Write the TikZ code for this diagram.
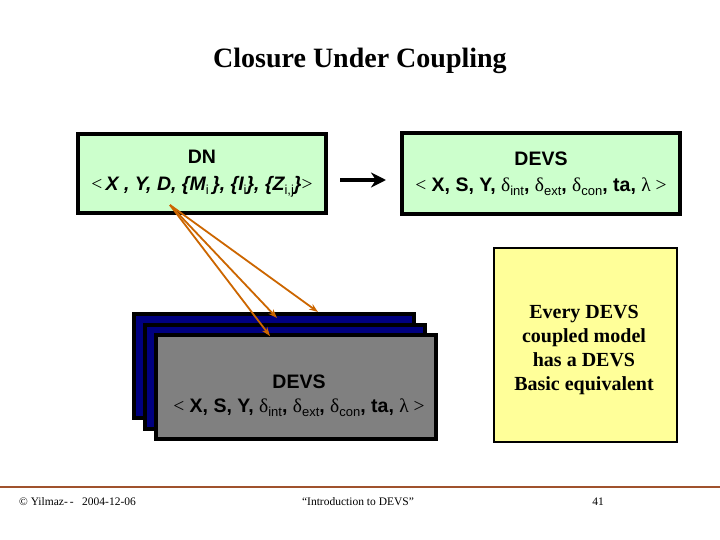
\documentclass[tikz,border=0pt]{standalone}
\usepackage{fontspec}
\setmainfont{Liberation Serif}
\newfontfamily\arialf{Liberation Sans}
\usetikzlibrary{arrows.meta}
\definecolor{lightgreen}{HTML}{CCFFCC}
\definecolor{navyfill}{HTML}{000080}
\definecolor{grayfill}{HTML}{808080}
\definecolor{paleyellow}{HTML}{FFFF99}
\definecolor{orangearrow}{HTML}{CC6600}
\definecolor{brownline}{HTML}{A0522D}
\newcommand\sbx[1]{\raisebox{-0.35ex}{\fontsize{13}{13}\selectfont\arialf\mdseries\upshape #1}}
\newcommand\devsline{{\rmfamily\mdseries <} \textbf{X, S, Y,} {\rmfamily\mdseries δ}\sbx{int}\textbf{,} {\rmfamily\mdseries δ}\sbx{ext}\textbf{,} {\rmfamily\mdseries δ}\sbx{con}\textbf{, ta,} {\rmfamily\mdseries λ >}}
\begin{document}
\begin{tikzpicture}[x=1pt,y=-1pt,
  greenbox/.style={draw=black, line width=4pt, fill=lightgreen, inner sep=0pt, align=center,
    font=\fontsize{19.5}{26}\selectfont\arialf},
  stackbox/.style={draw=black, line width=4pt, fill=navyfill, inner sep=0pt,
    minimum width=280pt, minimum height=104pt},
  frontbox/.style={stackbox, fill=grayfill},
  notebox/.style={draw=black, line width=1.8pt, fill=paleyellow, inner sep=0pt},
  notetext/.style={align=center, inner sep=0pt, font=\fontsize{20}{23.7}\selectfont\bfseries},
  couple/.style={draw=orangearrow, line width=1.8pt, -{Stealth[length=9pt,width=6.5pt]}},
  foot/.style={font=\fontsize{11.5}{12}\selectfont, inner sep=0pt}
]
\useasboundingbox (0,0) rectangle (720,540);
\fill[white] (0,0) rectangle (720,540);

\node[font=\fontsize{28}{30}\selectfont\bfseries] (title) at (360,61) {Closure Under Coupling};

\node[greenbox, minimum width=248pt, minimum height=79pt] (dn) at (202,173.5)
  {\textbf{DN}\\[1pt]{\rmfamily\mdseries <}\,\textbf{\textit{X , Y, D, \{M\sbx{i }\}, \{I\sbx{i}\}, \{Z\sbx{i,j}\}}}{\rmfamily\mdseries >}};

\node[greenbox, minimum width=278pt, minimum height=81pt] (devs) at (541,173.5)
  {\textbf{DEVS}\\\devsline};

\draw[line width=4pt, -{Stealth[length=15pt,width=15pt]}] (dn.east) ++(12,6.5) coordinate (a0) -- ++(46,0) coordinate (a1);

\node[stackbox] (back) at (274,366) {};
\node[stackbox] (mid) at (284.5,376.5) {};
\node[frontbox] (front) at (295.5,387) {};
\node[font=\fontsize{19.5}{24}\selectfont\arialf, align=center] (frontlabel) at (299,396)
  {\textbf{DEVS}\\\devsline};

\node[notebox, minimum width=183.5pt, minimum height=194.5pt] (note) at (585.5,345) {};
\node[notetext] (notelabel) at (584,350)
  {Every DEVS\\coupled model\\has a DEVS\\Basic equivalent};

\coordinate (src) at (170,205);
\coordinate (e1) at (318,312);
\coordinate (e2) at (277,318);
\coordinate (e3) at (270,336);
\draw[couple] (src) -- (e1);
\draw[couple] (src) -- (e2);
\draw[couple] (src) -- (e3);

\draw[brownline, line width=1.5pt] (0,487) coordinate (f0) -- (720,487) coordinate (f1);
\node[foot, anchor=west] (copy) at (19,502) {© Yilmaz-\,-\ \ \ 2004-12-06};
\node[foot] (course) at (358,502) {“Introduction to DEVS”};
\node[foot] (page) at (598,502) {41};
\end{tikzpicture}
\end{document}
